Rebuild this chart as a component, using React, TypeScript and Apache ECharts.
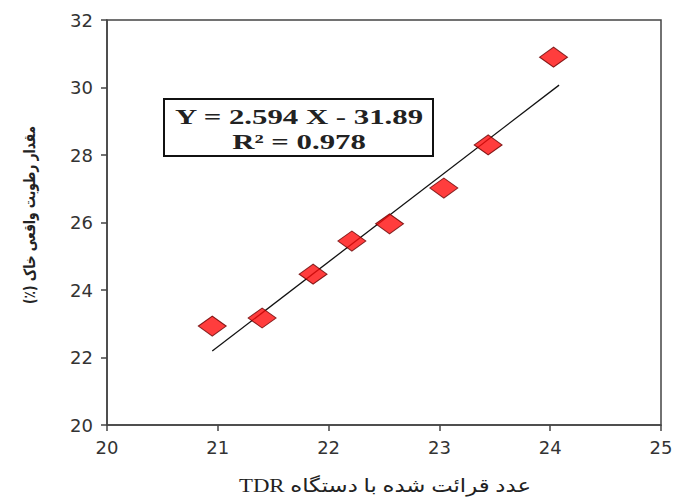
import React, { useEffect, useRef } from "react";
import * as echarts from "echarts";

const xValues = [20.95, 21.4, 21.86, 22.21, 22.55, 23.04, 23.44, 24.03];
const yValues = [22.93, 23.17, 24.47, 25.45, 25.96, 27.02, 28.3, 30.9];
const fitLineX = [20.95, 24.08];
const fitLineY = [22.19, 30.07];
const equationText = "Y = 2.594 X - 31.89";
const r2Text = "R² = 0.978";
const xAxisTitle = "عدد قرائت شده با دستگاه TDR";
const yAxisTitle = "مقدار رطوبت واقعی خاک (٪)";

const rtl = (s: string) => "\u202B" + s + "\u202C";

export default function App() {
  const ref = useRef<HTMLDivElement>(null);
  useEffect(() => {
    if (!ref.current) return;
    const chart = echarts.init(ref.current, null, { renderer: "svg" });
    const points = xValues.map((x, i) => [x, yValues[i]]);
    const line = fitLineX.map((x, i) => [x, fitLineY[i]]);
    chart.setOption({
      animation: false,
      backgroundColor: "#ffffff",
      grid: { left: 107, right: 23, top: 20, bottom: 72, show: true, borderColor: "#444", borderWidth: 1.5, backgroundColor: "transparent" },
      xAxis: {
        type: "value",
        min: 20,
        max: 25,
        interval: 1,
        axisLine: { show: true, onZero: false, lineStyle: { color: "#444", width: 1.5 } },
        axisTick: { show: true, inside: false, length: 6, lineStyle: { color: "#444", width: 1.5 } },
        axisLabel: { color: "#333", fontSize: 18, fontFamily: "DejaVu Sans", margin: 13 },
        splitLine: { show: false },
      },
      yAxis: {
        type: "value",
        min: 20,
        max: 32,
        interval: 2,
        axisLine: { show: true, onZero: false, lineStyle: { color: "#444", width: 1.5 } },
        axisTick: { show: true, inside: false, length: 6, lineStyle: { color: "#444", width: 1.5 } },
        axisLabel: { color: "#333", fontSize: 18, fontFamily: "DejaVu Sans", margin: 14 },
        splitLine: { show: false },
      },
      series: [
        {
          type: "line",
          data: line,
          symbol: "none",
          lineStyle: { color: "#111", width: 1.3 },
          z: 2,
        },
        {
          type: "scatter",
          data: points,
          symbol: "diamond",
          symbolSize: [28, 20],
          itemStyle: { color: "#ff0d0d", borderColor: "#660000", borderWidth: 1 },
          z: 3,
        },
      ],
      graphic: [
        {
          type: "group",
          left: 163,
          top: 98,
          children: [
            {
              type: "rect",
              shape: { x: 0, y: 0, width: 269, height: 57 },
              style: { fill: "#fff", stroke: "#111", lineWidth: 2 },
            },
            {
              type: "text",
              x: 135,
              y: 18,
              scaleX: 1.4,
              style: { text: equationText, font: "bold 22px 'Liberation Serif'", fill: "#222", align: "center", verticalAlign: "middle" },
            },
            {
              type: "text",
              x: 135,
              y: 43,
              scaleX: 1.4,
              style: { text: r2Text, font: "bold 22px 'Liberation Serif'", fill: "#222", align: "center", verticalAlign: "middle" },
            },
          ],
        },
        {
          type: "text",
          x: 29,
          y: 215,
          rotation: Math.PI / 2,
          scaleX: 0.76,
          style: { text: rtl(yAxisTitle), font: "bold 16px 'DejaVu Sans'", fill: "#222", align: "center", verticalAlign: "middle" },
        },
        {
          type: "text",
          x: 385,
          y: 486,
          scaleX: 1.2,
          style: { text: rtl(xAxisTitle), font: "19px 'Liberation Serif', 'DejaVu Sans'", fill: "#222", align: "center", verticalAlign: "middle" },
        },
      ],
    });
    return () => chart.dispose();
  }, []);
  return <div ref={ref} style={{ position: "fixed", left: 0, top: 0, width: 684, height: 497 }} />;
}
